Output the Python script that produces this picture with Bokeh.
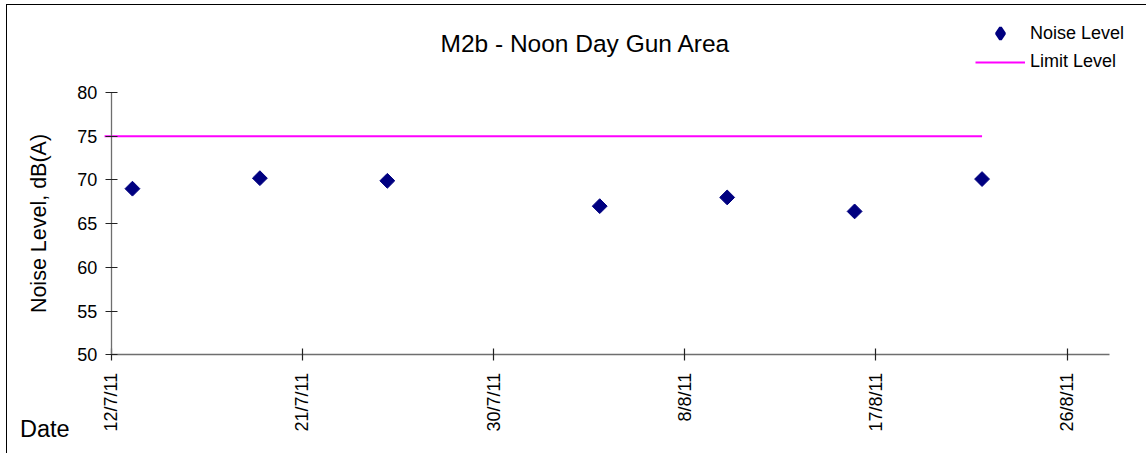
import math
from datetime import timedelta
import pandas as pd
from bokeh.plotting import figure
from bokeh.models import Range1d, FixedTicker, Label, Legend, LegendItem, ColumnDataSource
from bokeh.embed import file_html
from bokeh.resources import INLINE

# ---- data ----
dates = ["2011-07-13", "2011-07-19", "2011-07-25", "2011-08-04", "2011-08-10", "2011-08-16", "2011-08-22"]
noise_levels = [69.0, 70.2, 69.9, 67.0, 68.0, 66.4, 70.1]
limit_dates = ["2011-07-11 16:30", "2011-08-22"]
limit_levels = [75, 75]
tick_dates = ["2011-07-12", "2011-07-21", "2011-07-30", "2011-08-08", "2011-08-17", "2011-08-26"]
tick_labels = ["12/7/11", "21/7/11", "30/7/11", "8/8/11", "17/8/11", "26/8/11"]
x_start, x_end = "2011-07-12", "2011-08-28"
y_start, y_end = 50, 80
y_ticks = [50, 55, 60, 65, 70, 75, 80]

FONT = "Liberation Sans"
NAVY = "#000080"
MAGENTA = "#FF00FF"

# ---- layout (pixels) ----
W, H = 1140, 449
OX, OY = 7, 5                 # canvas origin inside the outer box
AX_LEFT, AX_RIGHT = 103.7, 1102.0   # canvas x of x_start / x_end
AX_TOP, AX_BOTTOM = 87.0, 349.3     # canvas y of y_end / y_start


def to_dt(s):
    return pd.Timestamp(s).to_pydatetime()


def to_ms(s):
    return int(pd.Timestamp(s).value // 10**6)


n_days = (pd.Timestamp(x_end) - pd.Timestamp(x_start)).days
px_day = (AX_RIGHT - AX_LEFT) / n_days
xr_start = to_dt(x_start) - timedelta(days=AX_LEFT / px_day)
xr_end = to_dt(x_end) + timedelta(days=(W - AX_RIGHT) / px_day)
px_unit = (AX_BOTTOM - AX_TOP) / (y_end - y_start)
yr_end = y_end + AX_TOP / px_unit
yr_start = y_start - (H - AX_BOTTOM) / px_unit

p = figure(
    width=W, height=H,
    x_axis_type="datetime",
    x_range=Range1d(xr_start, xr_end),
    y_range=Range1d(yr_start, yr_end),
    output_backend="svg", toolbar_location=None,
    min_border_left=0, min_border_right=0, min_border_top=0, min_border_bottom=0,
)
p.styles = {"border-left": "1px solid #000000", "border-top": "1px solid #000000",
            "margin-left": f"{OX - 1}px", "margin-top": f"{OY - 1}px"}
p.outline_line_color = None
p.xgrid.visible = False
p.ygrid.visible = False
p.background_fill_color = "white"
p.border_fill_color = "white"

src = ColumnDataSource(dict(x=[to_dt(d) for d in dates], y=noise_levels))
# legend swatch for the noise series (the legend does not rotate markers);
# drawn underneath the real markers, where it is hidden
r_noise_key = p.scatter("x", "y", source=src, marker="diamond", size=10, line_width=3,
                        fill_color=NAVY, line_color=NAVY)
r_noise = p.scatter("x", "y", source=src, marker="square", size=10.5, angle=math.pi / 4,
                    fill_color=NAVY, line_color=NAVY)
r_limit = p.line([to_dt(d) for d in limit_dates], limit_levels, line_color=MAGENTA, line_width=2)

# x axis, fixed at the bottom of the value range
xa = p.xaxis[0]
tick_ms = [to_ms(d) for d in tick_dates]
xa.ticker = FixedTicker(ticks=tick_ms)
xa.major_label_overrides = {t: lab for t, lab in zip(tick_ms, tick_labels)}
xa.major_label_orientation = math.pi / 2
xa.fixed_location = y_start
xa.bounds = (to_dt(x_start), to_dt(x_end))
xa.minor_tick_line_color = None
xa.major_tick_in = 6
xa.major_tick_out = 6
xa.major_label_standoff = 12

# y axis, fixed at the start of the date range
ya = p.yaxis[0]
ya.ticker = FixedTicker(ticks=y_ticks)
ya.fixed_location = to_ms(x_start)
ya.bounds = (y_start, y_end)
ya.minor_tick_line_color = None
ya.major_tick_in = 6
ya.major_tick_out = 6
ya.major_label_standoff = 8
ya.axis_label = "Noise Level, dB(A)"
ya.axis_label_text_font = FONT
ya.axis_label_text_font_size = "21.5px"
ya.axis_label_text_font_style = "normal"
ya.axis_label_text_color = "#000000"
ya.axis_label_standoff = 23

for ax in (xa, ya):
    ax.axis_line_color = "#6e6e6e"
    ax.axis_line_width = 1.3
    ax.major_tick_line_color = "#222222"
    ax.major_tick_line_width = 1.2
    ax.major_label_text_font = FONT
    ax.major_label_text_font_size = "18px"
    ax.major_label_text_color = "#000000"

# texts
title = Label(x=577, y=37, x_units="canvas", y_units="canvas", text="M2b - Noon Day Gun Area",
              text_font=FONT, text_font_size="24.5px", text_align="center", text_baseline="alphabetic",
              text_color="#000000")
p.add_layout(title)
date_lab = Label(x=11.5, y=422, x_units="canvas", y_units="canvas", text="Date",
                 text_font=FONT, text_font_size="23.5px", text_align="left", text_baseline="alphabetic",
                 text_color="#000000")
p.add_layout(date_lab)

common = dict(glyph_width=50, label_standoff=5, padding=0, margin=0, border_line_color=None,
              background_fill_alpha=0, label_text_font=FONT, label_text_font_size="18px",
              label_text_color="#000000")
legend_noise = Legend(items=[LegendItem(label="Noise Level", renderers=[r_noise_key])],
                      location=(968, 406), glyph_height=30, label_height=30, **common)
legend_limit = Legend(items=[LegendItem(label="Limit Level", renderers=[r_limit])],
                      location=(968, 382), glyph_height=20, label_height=20, **common)
p.add_layout(legend_noise)
p.add_layout(legend_limit)

open("out.html", "w").write(file_html(p, INLINE))
